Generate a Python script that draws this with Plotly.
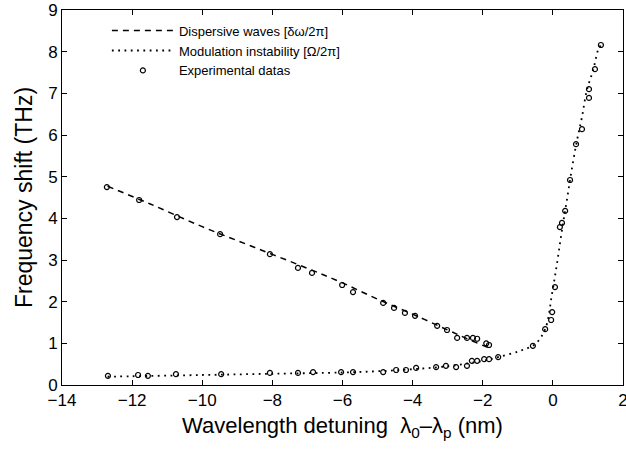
import plotly.graph_objects as go

# Dispersive waves theory curve
dw_x = [-12.7, -11.5, -10.0, -8.5, -7.0, -6.0, -5.0, -4.0, -3.0, -2.5, -1.8]
dw_y = [4.77, 4.35, 3.80, 3.30, 2.80, 2.45, 2.06, 1.70, 1.32, 1.13, 0.88]

# Modulation instability theory curve
mi_x = [-12.7, -12.0, -10.0, -8.0, -6.0, -5.0, -4.0, -3.0, -2.0, -1.56, -0.94, -0.51, -0.22,
        -0.02, 0.12, 0.26, 0.40, 0.55, 0.69, 0.83, 0.97, 1.15, 1.29, 1.37]
mi_y = [0.20, 0.21, 0.24, 0.27, 0.30, 0.33, 0.38, 0.45, 0.58, 0.67, 0.82, 0.98, 1.34,
        2.21, 2.93, 3.72, 4.44, 5.23, 5.88, 6.43, 7.08, 7.56, 8.04, 8.16]

# Experimental data
exp_x = [-12.72, -11.80, -10.72, -9.49, -8.07, -7.27, -6.87, -6.01, -5.70, -4.84, -4.53,
         -4.22, -3.93, -3.30, -3.02, -2.73, -2.45, -2.28, -2.16, -1.90, -1.82,
         -12.69, -11.83, -11.55, -10.75, -9.46, -8.07, -7.27, -6.84, -6.04, -5.70, -4.84,
         -4.47, -4.19, -3.90, -3.33, -3.05, -2.76, -2.45, -2.31, -2.16, -1.96, -1.82, -1.56,
         -0.57, -0.22, -0.05, -0.02, 0.06, 0.20, 0.26, 0.35, 0.49, 0.66, 0.83, 1.03, 1.03,
         1.20, 1.37]
exp_y = [4.75, 4.44, 4.03, 3.62, 3.14, 2.81, 2.69, 2.40, 2.23, 1.97, 1.85,
         1.73, 1.66, 1.42, 1.32, 1.13, 1.13, 1.13, 1.11, 1.00, 0.96,
         0.22, 0.24, 0.22, 0.26, 0.26, 0.29, 0.29, 0.31, 0.31, 0.31, 0.31,
         0.36, 0.36, 0.41, 0.43, 0.46, 0.43, 0.46, 0.58, 0.58, 0.62, 0.62, 0.67,
         0.94, 1.34, 1.56, 1.75, 2.35, 3.79, 3.89, 4.18, 4.92, 5.78, 6.14, 6.89, 7.10,
         7.58, 8.16]

FONT = "Liberation Sans, Arial, sans-serif"

fig = go.Figure()
fig.add_trace(go.Scatter(x=dw_x, y=dw_y, mode="lines", name="Dispersive waves [δω/2π]",
                         line=dict(color="black", width=1.5, dash="6px,5px", shape="spline")))
fig.add_trace(go.Scatter(x=mi_x, y=mi_y, mode="lines", name="Modulation instability [Ω/2π]",
                         line=dict(color="black", width=1.8, dash="1.8px,4.5px", shape="spline")))
fig.add_trace(go.Scatter(x=exp_x, y=exp_y, mode="markers", name="Experimental datas",
                         marker=dict(symbol="circle-open", size=5, color="black",
                                     line=dict(width=1.2, color="black"))))

axis_common = dict(showgrid=False, zeroline=False, showline=True, linecolor="black",
                   linewidth=1, mirror="ticks", ticks="inside", ticklen=5,
                   tickcolor="black", automargin=False, ticklabeloverflow="allow",
                   tickfont=dict(family=FONT, size=17, color="black"))

fig.update_layout(
    width=626, height=450,
    margin=dict(l=62, r=3, t=10, b=65),
    paper_bgcolor="white", plot_bgcolor="white",
    font=dict(family=FONT, color="black"),
    xaxis=dict(range=[-14, 2], dtick=2, tick0=0,
               title=dict(text="Wavelength detuning  λ<sub>0</sub>–λ<sub>p</sub> (nm)",
                          font=dict(family=FONT, size=22), standoff=8),
               **axis_common),
    yaxis=dict(range=[0, 9], dtick=1, tick0=0,
               title=dict(text="Frequency shift (THz)", font=dict(family=FONT, size=23),
                          standoff=9),
               **axis_common),
    legend=dict(x=0.08, y=0.985, xanchor="left", yanchor="top",
                bgcolor="rgba(0,0,0,0)", borderwidth=0,
                font=dict(family=FONT, size=13, color="black"),
                itemwidth=62, tracegroupgap=0),
    showlegend=True,
)

# remove the browser's default page margin so the figure sits at the window origin
fig.write_html("out.html",
               config={"displayModeBar": False},
               post_script="document.body.style.margin='0px';"
                           "document.documentElement.style.overflow='hidden';")
